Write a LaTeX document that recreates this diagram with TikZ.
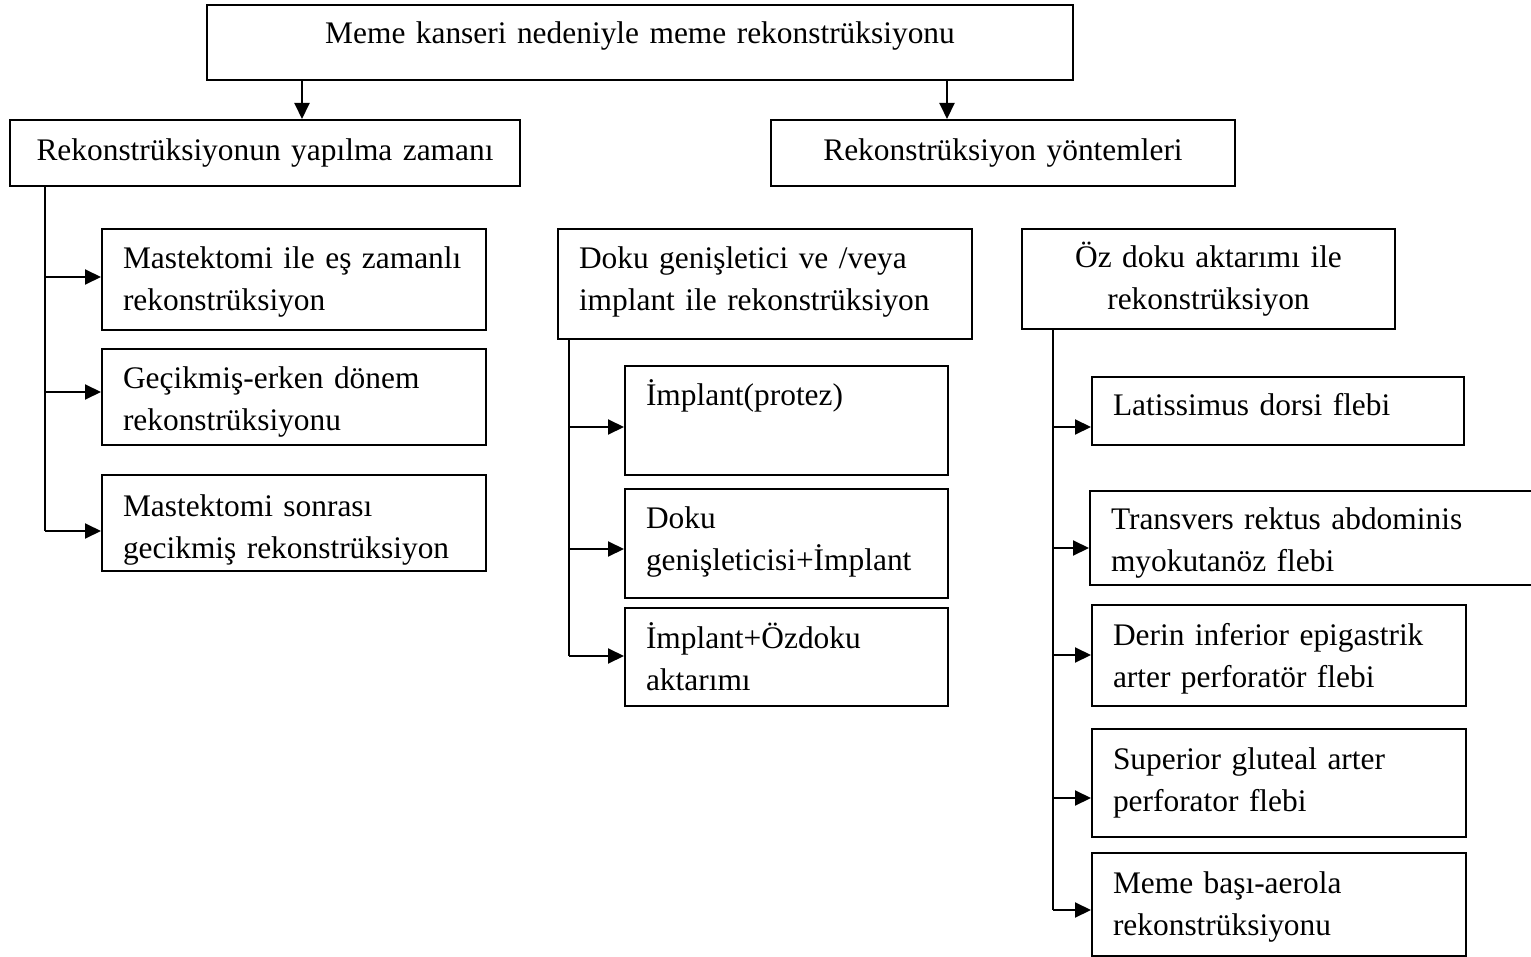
\documentclass[tikz,border=0pt]{standalone}
\usepackage{fontspec}
\setmainfont{Liberation Serif}
\usetikzlibrary{arrows.meta}
\newcommand{\sh}[2]{\raisebox{#1}[\height][\depth]{#2}}
\tikzset{
  box/.style={draw, line width=1pt, inner xsep=10.5pt, inner ysep=0pt, anchor=north west,
    font=\fontsize{15.7}{21}\selectfont},
  conn/.style={line width=1pt},
  arr/.style={line width=1pt, -{Triangle[length=8pt,width=7.5pt]}},
}
\begin{document}
\begin{tikzpicture}[x=0.5pt,y=-0.5pt]
\useasboundingbox (0,0) rectangle (1531,957);
\clip (0,0) rectangle (1531,957);
% level 1
\node[box, minimum width=433pt, minimum height=37.5pt, text width=412pt, align=center] (top) at (206,4)
  {\sh{3.5pt}{Meme kanseri nedeniyle meme rekonstrüksiyonu}};
% level 2
\node[box, minimum width=255pt, minimum height=33pt, text width=234pt, align=center] (timeL) at (9,119)
  {Rekonstrüksiyonun yapılma zamanı};
\node[box, minimum width=232pt, minimum height=33pt, text width=211pt, align=center] (methR) at (770,119)
  {Rekonstrüksiyon yöntemleri};
% left column
\node[box, minimum width=192pt, minimum height=50.5pt, text width=171pt, align=left] (m1) at (101,228)
  {\sh{-1.25pt}{Mastektomi ile eş zamanlı}\\\sh{-1.25pt}{rekonstrüksiyon}};
\node[box, minimum width=192pt, minimum height=48pt, text width=171pt, align=left] (m2) at (101,348)
  {\sh{-2.5pt}{Geçikmiş-erken dönem}\\\sh{-2.5pt}{rekonstrüksiyonu}};
\node[box, minimum width=192pt, minimum height=48pt, text width=171pt, align=left] (m3) at (101,474)
  {\sh{-3.5pt}{Mastektomi sonrası}\\\sh{-3.5pt}{gecikmiş rekonstrüksiyon}};
% middle column
\node[box, minimum width=207pt, minimum height=55pt, text width=186pt, align=left] (implG) at (557,228)
  {\sh{1pt}{Doku genişletici ve /veya}\\\sh{1pt}{implant ile rekonstrüksiyon}};
\node[box, minimum width=161.5pt, minimum height=54.5pt, text width=140.5pt, align=left] (i1) at (624,365)
  {\sh{3.5pt}{İmplant(protez)}\\\mbox{}};
\node[box, minimum width=161.5pt, minimum height=54.5pt, text width=140.5pt, align=left] (i2) at (624,488)
  {\sh{1pt}{Doku}\\\sh{1pt}{genişleticisi+İmplant}};
\node[box, minimum width=161.5pt, minimum height=49pt, text width=140.5pt, align=left] (i3) at (624,607)
  {\sh{0pt}{İmplant+Özdoku}\\\sh{0pt}{aktarımı}};
% right column
\node[box, minimum width=186.5pt, minimum height=50pt, text width=165.5pt, align=center] (oz) at (1021,228)
  {Öz doku aktarımı ile\\rekonstrüksiyon};
\node[box, minimum width=186pt, minimum height=34pt, text width=165pt, align=left] (f1) at (1091,376)
  {\sh{3pt}{Latissimus dorsi flebi}};
\node[box, minimum width=230pt, minimum height=47pt, text width=209pt, align=left] (f2) at (1089,490)
  {\sh{-2.5pt}{Transvers rektus abdominis}\\\sh{-2.5pt}{myokutanöz flebi}};
\node[box, minimum width=187pt, minimum height=50.5pt, text width=166pt, align=left] (f3) at (1091,604)
  {\sh{-1.75pt}{Derin inferior epigastrik}\\\sh{-1.75pt}{arter perforatör flebi}};
\node[box, minimum width=187pt, minimum height=54pt, text width=166pt, align=left] (f4) at (1091,728)
  {Superior gluteal arter\\perforator flebi};
\node[box, minimum width=187pt, minimum height=51.5pt, text width=166pt, align=left] (f5) at (1091,852)
  {\sh{-1.25pt}{Meme başı-aerola}\\\sh{-1.25pt}{rekonstrüksiyonu}};
% level-1 arrows
\coordinate (ta) at (302,0);
\coordinate (tb) at (947,0);
\draw[arr] (top.south -| ta) -- (timeL.north -| ta);
\draw[arr] (top.south -| tb) -- (methR.north -| tb);
% left bus
\coordinate (L1) at (45,277);
\coordinate (L2) at (45,392);
\coordinate (L3) at (45,531);
\draw[conn] (timeL.south -| L1) -- (L3);
\draw[arr] (L1) -- (L1 -| m1.west);
\draw[arr] (L2) -- (L2 -| m2.west);
\draw[arr] (L3) -- (L3 -| m3.west);
% middle bus
\coordinate (M1) at (569,427);
\coordinate (M2) at (569,549);
\coordinate (M3) at (569,656);
\draw[conn] (implG.south -| M1) -- (M3);
\draw[arr] (M1) -- (M1 -| i1.west);
\draw[arr] (M2) -- (M2 -| i2.west);
\draw[arr] (M3) -- (M3 -| i3.west);
% right bus
\coordinate (R1) at (1053,427);
\coordinate (R2) at (1053,548);
\coordinate (R3) at (1053,655);
\coordinate (R4) at (1053,798);
\coordinate (R5) at (1053,910);
\draw[conn] (oz.south -| R1) -- (R5);
\draw[arr] (R1) -- (R1 -| f1.west);
\draw[arr] (R2) -- (R2 -| f2.west);
\draw[arr] (R3) -- (R3 -| f3.west);
\draw[arr] (R4) -- (R4 -| f4.west);
\draw[arr] (R5) -- (R5 -| f5.west);
\end{tikzpicture}
\end{document}
